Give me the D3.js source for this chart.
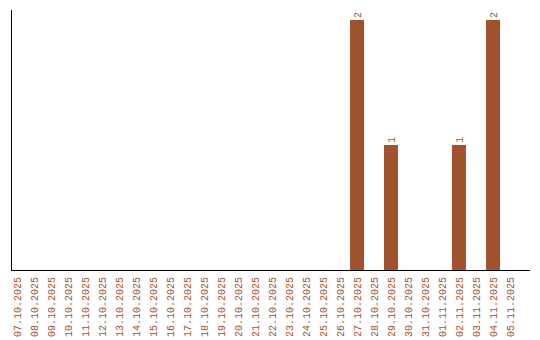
<!DOCTYPE html>
<html>
<head>
<meta charset="utf-8">
<script src="https://cdn.jsdelivr.net/npm/d3@7"></script>
<style>
  body { margin: 0; background: #fff; }
  text { font-family: "Liberation Mono", monospace; font-size: 10px; fill: #a0522d; }
</style>
</head>
<body>
<div id="chart"></div>
<script>
var dates = ["07.10.2025","08.10.2025","09.10.2025","10.10.2025","11.10.2025","12.10.2025",
  "13.10.2025","14.10.2025","15.10.2025","16.10.2025","17.10.2025","18.10.2025","19.10.2025",
  "20.10.2025","21.10.2025","22.10.2025","23.10.2025","24.10.2025","25.10.2025","26.10.2025",
  "27.10.2025","28.10.2025","29.10.2025","30.10.2025","31.10.2025","01.11.2025","02.11.2025",
  "03.11.2025","04.11.2025","05.11.2025"];
var counts = [0,0,0,0,0,0,0,0,0,0,0,0,0,0,0,0,0,0,0,0,2,0,1,0,0,0,1,0,2,0];

var svgWidth = 540, svgHeight = 340;
var axisLeft = 11, axisRight = 530, baseY = 270, topY = 20;

var svg = d3.select("#chart").append("svg")
  .attr("width", svgWidth)
  .attr("height", svgHeight);

var data = dates.map(function(d, i) { return {date: d, value: counts[i]}; });

var x = d3.scaleBand()
  .domain(dates)
  .range([8.5, 8.5 + 17 * dates.length])
  .paddingInner(0.18)
  .paddingOuter(0.09);

var y = d3.scaleLinear()
  .domain([0, d3.max(counts)])
  .range([baseY, topY]);

// bars
svg.selectAll("rect.bar")
  .data(data.filter(function(d) { return d.value > 0; }))
  .enter()
  .append("rect")
  .attr("class", "bar")
  .attr("x", function(d) { return x(d.date); })
  .attr("y", function(d) { return y(d.value); })
  .attr("width", x.bandwidth())
  .attr("height", function(d) { return baseY - y(d.value); })
  .attr("fill", "#a0522d");

// value labels
svg.selectAll("text.val")
  .data(data.filter(function(d) { return d.value > 0; }))
  .enter()
  .append("text")
  .attr("class", "val")
  .attr("transform", function(d) {
    return "translate(" + (x(d.date) + x.bandwidth() / 2 + 3.5) + "," + (y(d.value) - 2) + ") rotate(-90)";
  })
  .text(function(d) { return d.value; });

// axes
svg.append("line")
  .attr("x1", axisLeft + 0.5).attr("x2", axisLeft + 0.5)
  .attr("y1", 10).attr("y2", baseY)
  .attr("stroke", "#000");
svg.append("line")
  .attr("x1", axisLeft).attr("x2", axisRight)
  .attr("y1", baseY + 0.5).attr("y2", baseY + 0.5)
  .attr("stroke", "#000");

// date labels
svg.selectAll("text.date")
  .data(dates)
  .enter()
  .append("text")
  .attr("class", "date")
  .attr("text-anchor", "end")
  .attr("transform", function(d) {
    return "translate(" + (x(d) + x.bandwidth() / 2 + 3.5) + "," + (baseY + 7) + ") rotate(-90)";
  })
  .text(function(d) { return d; });
</script>
</body>
</html>
